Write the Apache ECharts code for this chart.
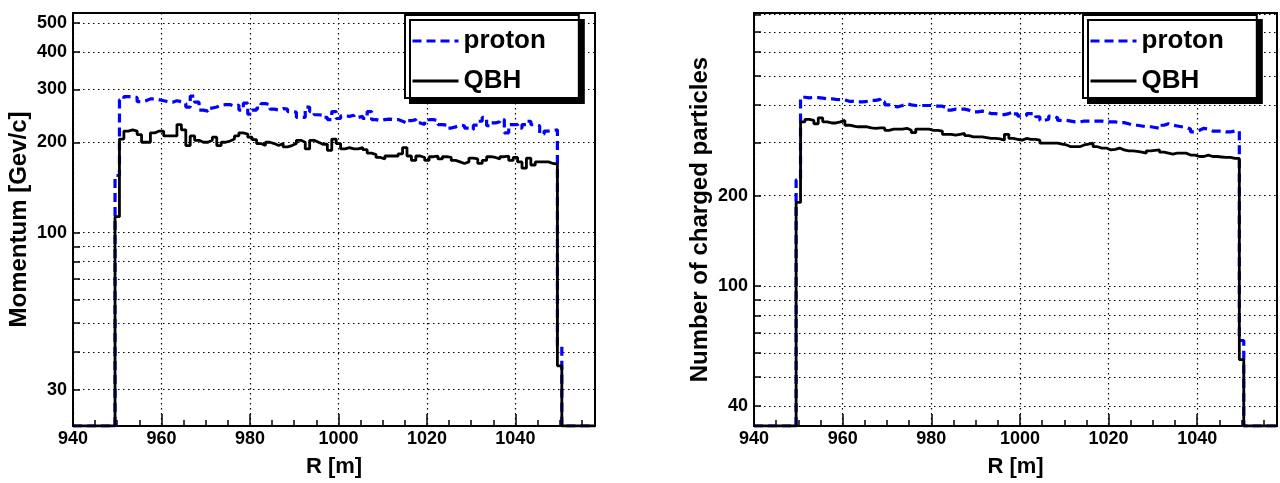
<!DOCTYPE html>
<html><head><meta charset="utf-8">
<script src="https://cdn.jsdelivr.net/npm/echarts@6/dist/echarts.min.js"></script>
<style>html,body{margin:0;padding:0;background:#fff}#c{width:1280px;height:483px}</style>
</head><body><div id="c"></div>
<script>
// ---------- data (bins of 1 m, centred on 950 ... 1050) ----------
const binFirstCenter = 950;
const binWidth = 1;
const xRange = [940, 1058];
const xLabelValues = [940, 960, 980, 1000, 1020, 1040];
const xMinorValues = [945, 950, 955, 965, 970, 975, 985, 990, 995, 1005, 1010, 1015, 1025, 1030, 1035, 1045, 1050, 1055];

// Left panel: Momentum [Gev/c]
const leftProton = [155,277,284,284,282,273,275,279,279,277,275,273,272,275,273,269,262,285,272,256,
  254,260,262,266,267,267,264,266,256,270,248,256,260,269,267,258,256,259,258,253,
  252,242,242,262,253,247,246,242,238,253,240,245,244,246,242,244,240,253,238,236,
  238,239,238,238,235,232,236,238,232,229,234,238,236,229,228,223,225,228,227,223,
  220,228,235,242,227,232,234,238,215,229,229,223,229,235,229,227,213,218,219,220,42];
const leftQBH = [113,205,218,220,218,212,200,200,215,218,218,210,210,210,229,220,195,210,203,200,
  200,203,208,195,200,202,205,210,215,213,208,204,198,195,200,198,195,198,193,195,
  198,203,200,190,203,200,197,197,188,205,198,190,192,190,190,192,189,184,182,178,
  176,180,180,180,183,192,180,174,180,178,174,179,180,176,179,178,174,172,170,172,
  177,176,170,174,179,178,176,179,180,174,178,172,164,177,168,172,172,172,170,169,36];
const leftYRange = [22.7, 539];
const leftGridValues = [30, 40, 50, 60, 70, 80, 90, 100, 200, 300, 400, 500];
const leftLabelValues = [30, 100, 200, 300, 400, 500];

// Right panel: Number of charged particles
const rightProton = [226,425,423,425,424,422,420,420,418,417,416,412,412,410,410,412,415,415,418,410,
  401,397,395,399,404,401,399,399,399,399,399,397,397,392,385,388,388,388,385,380,
  380,382,380,375,375,372,372,375,380,374,368,369,375,375,366,356,359,368,363,356,
  356,354,352,352,354,354,354,354,354,352,352,352,350,350,347,343,343,341,339,339,
  337,335,343,347,343,341,339,337,333,326,330,335,333,328,328,328,326,326,328,328,66];
const rightQBH = [190,352,359,356,347,363,352,349,349,352,356,343,341,339,339,339,336,335,336,336,
  330,333,333,333,335,330,324,333,333,333,330,330,328,320,320,318,320,322,317,314,
  314,314,312,310,310,309,306,320,310,308,306,310,308,308,306,299,299,299,299,297,
  295,291,291,291,295,297,299,291,288,288,284,285,288,284,282,282,281,279,277,282,
  283,284,279,277,275,277,277,277,273,273,270,270,273,270,270,269,268,268,266,266,57];
const rightYRange = [34.3, 810];
const rightGridValues = [40, 50, 60, 70, 80, 90, 100, 200, 300, 400, 500, 600, 700, 800];
const rightLabelValues = [40, 100, 200];

const seriesNames = ['proton', 'QBH'];
const xTitle = 'R [m]';
const leftYTitle = 'Momentum [Gev/c]';
const rightYTitle = 'Number of charged particles';

// ---------- helpers ----------
const FONT = '"Liberation Sans", Arial, Helvetica, sans-serif';
const lg = v => Math.log10(v);

function histPoints(values, floor) {
  const pts = [[xRange[0], floor]];
  const firstEdge = binFirstCenter - binWidth / 2;
  values.forEach((v, i) => pts.push([firstEdge + i * binWidth, v > 0 ? lg(v) : floor]));
  pts.push([firstEdge + values.length * binWidth, floor]);
  pts.push([xRange[1], floor]);
  return pts;
}

const dotted = { color: '#000', width: 1.2, type: [1.5, 3.5] };

const grids = [
  { left: 73, top: 13, width: 522, height: 419 },
  { left: 754, top: 13, width: 523, height: 419 }
];

const xAxes = [], yAxes = [], series = [], legends = [];
const panels = [
  { yRange: leftYRange, grid: leftGridValues, labels: leftLabelValues, title: leftYTitle,
    proton: leftProton, qbh: leftQBH, legendLeft: 405 },
  { yRange: rightYRange, grid: rightGridValues, labels: rightLabelValues, title: rightYTitle,
    proton: rightProton, qbh: rightQBH, legendLeft: 1083 }
];

panels.forEach((p, k) => {
  const ymin = lg(p.yRange[0]), ymax = lg(p.yRange[1]);
  xAxes.push({
    type: 'value', gridIndex: k, min: xRange[0], max: xRange[1],
    name: xTitle, nameLocation: 'middle', nameGap: 30,
    nameTextStyle: { fontFamily: FONT, fontSize: 22, fontWeight: 'bold', color: '#000' },
    axisLine: { show: true, lineStyle: { color: '#000', width: 2 } },
    axisTick: { show: true, inside: true, length: 12, lineStyle: { color: '#000', width: 1.5 },
                customValues: xLabelValues },
    axisLabel: { show: true, margin: 4, customValues: xLabelValues, formatter: v => String(v),
                 fontFamily: FONT, fontSize: 18, fontWeight: 'bold', color: '#000' },
    splitLine: { show: true, lineStyle: dotted }
  });
  xAxes.push({
    type: 'value', gridIndex: k, min: xRange[0], max: xRange[1], position: 'bottom',
    axisLine: { show: false },
    axisTick: { show: true, inside: true, length: 6, lineStyle: { color: '#000', width: 1.5 },
                customValues: xMinorValues },
    axisLabel: { show: false },
    splitLine: { show: false }
  });
  yAxes.push({
    type: 'value', gridIndex: k, min: ymin, max: ymax,
    name: p.title, nameLocation: 'middle', nameGap: 42,
    nameTextStyle: { fontFamily: FONT, fontSize: 24, fontWeight: 'bold', color: '#000' },
    axisLine: { show: true, lineStyle: { color: '#000', width: 2 } },
    axisTick: { show: true, inside: true, length: 7, lineStyle: { color: '#000', width: 1.5 },
                customValues: p.grid.map(lg) },
    axisLabel: { show: true, margin: 6, customValues: p.labels.map(lg),
                 formatter: v => String(Math.round(Math.pow(10, v))),
                 fontFamily: FONT, fontSize: 18, fontWeight: 'bold', color: '#000' },
    splitLine: { show: true, lineStyle: dotted }
  });
  const floor = ymin;
  series.push({
    name: seriesNames[0], type: 'line', xAxisIndex: 2 * k, yAxisIndex: k,
    data: histPoints(p.proton, floor), step: 'end', symbol: 'none', showSymbol: false,
    lineStyle: { color: '#0000ff', width: 3.2, type: [9, 5] }, itemStyle: { color: '#0000ff' },
    z: 3, silent: true, animation: false
  });
  series.push({
    name: seriesNames[1], type: 'line', xAxisIndex: 2 * k, yAxisIndex: k,
    data: histPoints(p.qbh, floor), step: 'end', symbol: 'none', showSymbol: false,
    lineStyle: { color: '#000', width: 2.8 }, itemStyle: { color: '#000' },
    z: 4, silent: true, animation: false
  });
  legends.push({
    data: seriesNames, orient: 'vertical', left: p.legendLeft, top: 15,
    backgroundColor: '#fff', borderColor: '#000', borderWidth: 2, borderRadius: 0,
    shadowColor: '#000', shadowOffsetX: 5, shadowOffsetY: 5, shadowBlur: 0,
    padding: [13, 33, 4, 6], itemWidth: 46, itemHeight: 14, itemGap: 14,
    selectedMode: false,
    itemStyle: { opacity: 0 },
    lineStyle: { width: 3 },
    textStyle: { fontFamily: FONT, fontSize: 26, fontWeight: 'bold', color: '#000' }
  });
});

const chart = echarts.init(document.getElementById('c'), null, { renderer: 'canvas' });
chart.setOption({
  animation: false,
  backgroundColor: '#fff',
  grid: grids.map(g => Object.assign({ show: true, borderColor: '#000', borderWidth: 2, backgroundColor: 'transparent' }, g)),
  xAxis: xAxes,
  yAxis: yAxes,
  legend: legends,
  series: series
});
</script>
</body></html>
